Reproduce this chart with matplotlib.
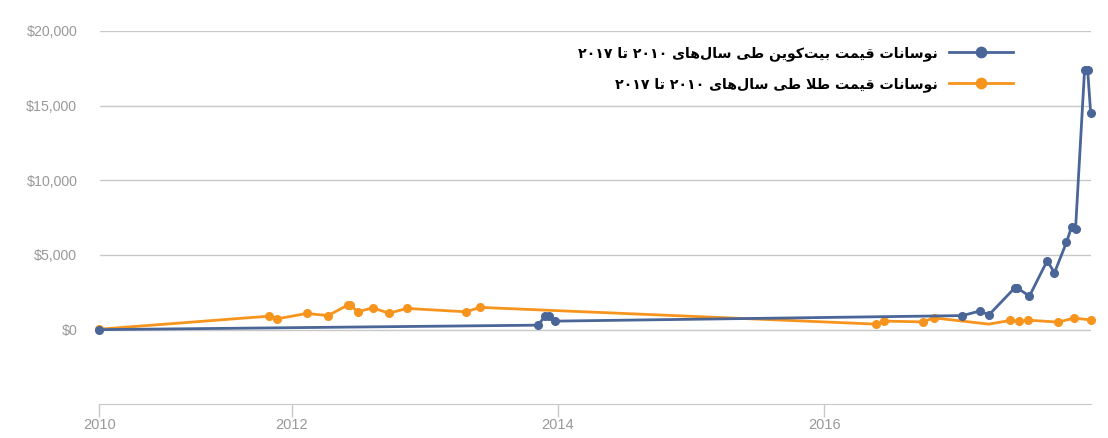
import re
import matplotlib
matplotlib.use("Agg")
import matplotlib.pyplot as plt
from matplotlib.ticker import FuncFormatter

# fractional years / USD
btc_x = [2010.557, 2013.850, 2013.903, 2013.929, 2013.978, 2017.037, 2017.172, 2017.234,
         2017.428, 2017.450, 2017.540, 2017.673, 2017.728, 2017.818, 2017.856, 2017.886,
         2017.954, 2017.977, 2018.000]
btc_y = [0, 300, 905, 905, 570, 940, 1260, 970,
         2780, 2780, 2245, 4610, 3810, 5845, 6870, 6715,
         17390, 17390, 14490]

gold_x = [2010.557, 2011.833, 2011.893, 2012.113, 2012.273, 2012.420, 2012.440, 2012.497,
          2012.607, 2012.730, 2012.868, 2013.308, 2013.415, 2016.388, 2016.451, 2016.742,
          2016.821, 2017.234, 2017.395, 2017.465, 2017.530, 2017.756, 2017.873, 2018.000]
gold_y = [30, 905, 725, 1085, 940, 1640, 1640, 1195,
          1460, 1105, 1420, 1195, 1490, 370, 570, 520,
          790, 370, 615, 550, 635, 505, 770, 655]

btc_label = "نوسانات قیمت بیت‌کوین طی سال‌های ۲۰۱۰ تا ۲۰۱۷"
gold_label = "نوسانات قیمت طلا طی سال‌های ۲۰۱۰ تا ۲۰۱۷"

y_ticks = [0, 5000, 10000, 15000, 20000]
x_ticks = [2010.557, 2012, 2014, 2016]
x_tick_labels = ["2010", "2012", "2014", "2016"]

BLUE = "#4a6597"
ORANGE = "#f7941d"

# matplotlib has no arabic shaping, so do a tiny one by hand
FORMS = {
    'ا': ('\uFE8D', '\uFE8E', None, None),
    'ب': ('\uFE8F', '\uFE90', '\uFE91', '\uFE92'),
    'ت': ('\uFE95', '\uFE96', '\uFE97', '\uFE98'),
    'س': ('\uFEB1', '\uFEB2', '\uFEB3', '\uFEB4'),
    'ط': ('\uFEC1', '\uFEC2', '\uFEC3', '\uFEC4'),
    'ق': ('\uFED5', '\uFED6', '\uFED7', '\uFED8'),
    'ل': ('\uFEDD', '\uFEDE', '\uFEDF', '\uFEE0'),
    'م': ('\uFEE1', '\uFEE2', '\uFEE3', '\uFEE4'),
    'ن': ('\uFEE5', '\uFEE6', '\uFEE7', '\uFEE8'),
    'ه': ('\uFEE9', '\uFEEA', '\uFEEB', '\uFEEC'),
    'و': ('\uFEED', '\uFEEE', None, None),
    'ی': ('\uFBFC', '\uFBFD', '\uFBFE', '\uFBFF'),
    'ک': ('\uFB8E', '\uFB8F', '\uFB90', '\uFB91'),
    '\uFEFB': ('\uFEFB', '\uFEFC', None, None),  # lam-alef
}
DIGITS = '۰۱۲۳۴۵۶۷۸۹'


def shape(text):
    text = text.replace('لا', '\uFEFB')
    out = []
    for i, c in enumerate(text):
        if c not in FORMS:
            out.append(c)
            continue
        p = text[i - 1] if i > 0 else ''
        n = text[i + 1] if i + 1 < len(text) else ''
        join_prev = p in FORMS and FORMS[p][2] is not None
        join_next = n in FORMS and FORMS[c][2] is not None
        iso, fin, ini, med = FORMS[c]
        if join_prev and join_next:
            out.append(med)
        elif join_prev:
            out.append(fin)
        elif join_next:
            out.append(ini)
        else:
            out.append(iso)
    s = ''.join(out).replace('\u200c', '')
    runs = re.findall('[%s]+|[^%s]+' % (DIGITS, DIGITS), s)
    return ''.join(r if r[0] in DIGITS else r[::-1] for r in reversed(runs))


fig = plt.figure(figsize=(11.08, 4.38), dpi=100)
ax = fig.add_axes([99.5 / 1108, 1 - 404.3 / 438, (1090.7 - 99.5) / 1108, (404.3 - 31) / 438])

ax.plot(gold_x, gold_y, color=ORANGE, lw=2.0, marker='o', ms=5.5, clip_on=False,
        markevery=[i for i in range(len(gold_x)) if i != 17], label=shape(gold_label), zorder=3)
ax.plot(btc_x, btc_y, color=BLUE, lw=2.0, marker='o', ms=5.5, clip_on=False,
        label=shape(btc_label), zorder=4)

ax.set_xlim(2010.557, 2018.0)
ax.set_ylim(-5000, 20000)
ax.set_yticks(y_ticks)
ax.yaxis.set_major_formatter(FuncFormatter(lambda v, _: "${:,.0f}".format(v)))
ax.set_xticks(x_ticks)
ax.set_xticklabels(x_tick_labels)
ax.grid(axis='y', color='#c8c8c8', lw=1)
ax.set_axisbelow(True)

for s in ['top', 'right', 'left']:
    ax.spines[s].set_visible(False)
ax.spines['bottom'].set_color('#c8c8c8')
ax.tick_params(axis='y', length=0, pad=16, labelsize=10.2, labelcolor='#999999')
ax.tick_params(axis='x', length=9, color='#c8c8c8', width=1, pad=1, labelsize=10.5,
               labelcolor='#999999')
for t in ax.get_xticklabels() + ax.get_yticklabels():
    t.set_fontfamily('Liberation Sans')

h, l = ax.get_legend_handles_labels()
leg = fig.legend(h[::-1], l[::-1], loc='upper right', bbox_to_anchor=(1013 / 1108, 1 - 46 / 438),
                 frameon=False, markerfirst=False, handlelength=4.5, handletextpad=0.8,
                 labelspacing=1.15, markerscale=1.35, borderaxespad=0, borderpad=0,
                 prop={'family': 'DejaVu Sans', 'size': 10.2, 'weight': 'bold'})

fig.savefig("out.png", dpi=100)
